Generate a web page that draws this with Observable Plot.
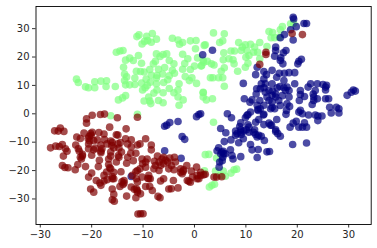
<!DOCTYPE html>
<html><head><meta charset="utf-8">
<script src="https://cdn.jsdelivr.net/npm/d3@7"></script>
<script src="https://cdn.jsdelivr.net/npm/@observablehq/plot@0.6"></script>
<style>html,body{margin:0;padding:0;background:#fff}svg{display:block}</style>
</head><body><div id="c"></div>
<script>
const green=[[-11.2,27.2],[-10.8,27.8],[-9.3,27.3],[-8.2,28.3],[-10.2,24.6],[-9.7,25.5],[-9.1,25.8],[-8.4,25.2],[-7.4,26.3],[-4.3,26.6],[-3.2,26],[-2.9,24.5],[-2.3,25.1],[-0.8,25.7],[0.3,25.8],[1.9,24.1],[0.2,22.9],[-15.2,21.7],[-14.5,22.1],[-13.9,22.3],[-10.9,20.5],[-7.4,21.1],[-6.7,20.2],[-6.1,20.9],[-5.4,21.1],[-2.3,21],[-13.4,18.9],[-12.6,19.6],[-11.9,18.8],[-10.3,17.8],[-7.6,18.5],[-8,17.6],[-4.9,18.8],[-4,17.6],[-1.3,19.4],[-1.9,17.7],[0.6,19.7],[1.7,18.8],[-13.8,16.4],[-2.3,15.7],[-0.8,15.6],[0,16.8],[1.3,16.8],[-5.8,16.3],[-7,15.7],[-4.3,15.3],[-11.3,15],[-10.5,14.9],[-9.8,14.7],[-8.7,15.6],[-13.6,14],[-13.2,13],[-11.6,12.6],[-8.4,13.6],[-7.3,13.5],[-6.2,14],[-4.9,13.4],[-3.9,14.3],[-1.8,13.1],[-1,11.7],[-0.5,12.7],[0.4,10.7],[-22.95,12.2],[-22.6,11],[-21.2,9.5],[-20.6,9.2],[-19.4,11.3],[-19.4,9.2],[-18.2,11.5],[-17.1,11.6],[-17.2,9.6],[-15.4,9.6],[-13.6,11.7],[-13.4,10.2],[-12.6,10.2],[-11.6,10.3],[-10.3,10.8],[-9.4,12.2],[-8.6,11.1],[-7.4,12.6],[-7.4,10.6],[-9.6,9.2],[-10.1,8.4],[-9.2,10],[-7.3,8.4],[-7.9,7.3],[-6,11],[-5.2,12],[-3,10.6],[-4.9,8.9],[-4,7.4],[-3.2,8.4],[-6.1,7.4],[-3.2,5.9],[-14.8,4.9],[-14,5.6],[-13.4,6.4],[-9.8,4.5],[-8.9,5.9],[-8.7,4.5],[-8.5,3.6],[-7,4.7],[-6.1,3.9],[-2.2,4.9],[-3,3],[1.7,7.4],[1.7,5.9],[-16.3,-0.7],[-11.1,-0.2],[3.7,28.5],[5.8,28.2],[2.1,24.3],[4.9,25.1],[5.5,25.7],[8.6,25.1],[9.3,23.5],[9.9,24.3],[10.9,24.5],[12.7,25.1],[11.7,23.5],[9.1,22.3],[10.2,22.3],[7.1,22.1],[7.8,22.1],[5.7,21.5],[11.5,21.7],[12.3,21.7],[14.1,23.7],[10,19.9],[10.6,20.5],[5.6,19],[6.7,19.4],[7.5,19],[7.7,17.6],[10.4,17.8],[9.9,16.4],[12.7,19.4],[5.8,16.2],[5.2,15],[8.4,15],[3.1,12.7],[3.6,12.7],[4.7,12.7],[5.5,12.7],[5.8,9.7],[1.7,7.6],[2.3,4.9],[3.5,5.3],[1.8,18.2],[2.5,18.5],[3.3,17.6],[3.8,17.2],[1.4,17],[14.5,29],[15.2,28.6],[17.1,30.7],[16.7,29.6],[18.7,31.7],[19.3,31.9],[15.6,26.8],[16.5,27],[14.9,26.8],[3.7,-3],[2.1,-14.4],[2.8,-14.3],[4.3,-15.6],[1.95,-20.1],[4.1,-20.2],[5.6,-20.2],[7.1,-20.9],[7.7,-19.7],[8.2,-19.5],[6,-22],[2.9,-25.8],[3.4,-25.2],[3.9,-24.8],[5.1,-21.7]];
const blue=[[1.6,20.8],[3.5,22.4],[19.2,34],[19.3,33.4],[21.3,31.8],[21.8,31.8],[18.7,29.6],[19.8,30.7],[17.5,27.9],[16.7,26.8],[19.2,26],[15.8,23.5],[15.8,22.3],[17.8,22.3],[17.3,21.5],[15.6,20.3],[16.8,19.7],[16.7,18.8],[17.2,17.6],[20.8,19.2],[20.3,18.5],[20.1,17.6],[12.2,16.4],[13.5,14.9],[11.9,13.8],[15.1,15.3],[13.5,12.3],[14,13.8],[16.5,14.3],[17.5,14.3],[18.4,14.5],[19.5,14.5],[16,12.9],[17.4,11.7],[9.5,10.7],[13,10.6],[13.8,10.6],[12.1,8.8],[12,7],[13.5,9.2],[13.8,7.6],[15.1,10.6],[15.2,8],[15.8,7],[16.6,9.6],[17.4,9.2],[18,9.4],[18.4,8.2],[19.5,10.6],[20.6,8.2],[20.6,6.8],[21.4,6.1],[22.1,9.4],[22.6,10.6],[23.9,10.6],[25,10.3],[25.7,10],[25.5,8.4],[23.1,7],[23.9,5.3],[23.2,4.7],[22.9,3.3],[25.5,5.3],[26.1,5.3],[26.3,2.3],[27.6,2.3],[28.1,1.8],[26.6,0.3],[28.1,0.3],[30.9,8.4],[31.3,8],[30.5,7.6],[29.7,6.5],[9.7,5.3],[11.2,4.9],[12.7,4.7],[10.8,4.1],[12.2,3],[13.5,3],[12.3,1.5],[14.5,4.7],[15.1,6.5],[16.4,4.7],[15.6,1.8],[14.8,1.8],[18,3.5],[18.5,2.6],[17.9,1.2],[17.8,-0.2],[20.4,4.7],[20.3,0.6],[21,0],[22.2,-0.4],[23.5,-0.4],[24,-0.8],[24.8,-0.8],[24,-2.4],[10.9,0.6],[10.2,-0.6],[9.9,-1.4],[6.4,0],[7.2,-1.4],[1.2,0],[9,-3.2],[12.5,-2],[13.5,-0.2],[16,-2],[14.5,-3.3],[19.8,-2.6],[19.2,-3.3],[21.4,-3.2],[5.1,-5.2],[6.1,-6.7],[8.8,-4.5],[10.4,-0.25],[12.4,1.2],[13.4,-0.4],[11.9,-3],[13.5,-3.8],[10.4,-3.9],[14.8,-4],[8,-6.1],[9,-5.6],[10.1,-5.6],[10.6,-6.5],[11.7,-5.6],[8,-7.6],[9.1,-7.3],[11.9,-7.3],[12.2,-8.2],[13,-7.9],[13.6,-9.4],[7.1,-9.2],[9.5,-8.8],[8.6,-10.2],[5.8,-9.8],[10.9,-10.8],[11.2,-12.7],[12.4,-12.6],[14.1,-13.4],[14.6,-13.3],[12.2,-15.4],[9,-15.1],[7.5,-15.9],[7,-12.7],[7.3,-14.7],[4.7,-12],[4.4,-13],[5.3,-13.5],[5.7,-14.1],[5.5,-15.3],[4.9,-17],[4.8,-18.8],[15.8,-6.2],[16.2,-7],[16.7,-7.9],[19.1,-10.8],[21.8,-10.3],[18.6,-4.7],[20.3,-4.7],[21,-4.7],[21.8,-4.7],[-5.8,-4.4],[-5.4,-4],[-4.8,-3.1],[-3.2,-2.7],[0.4,-1],[0.85,-0.25],[-2.4,-8],[-1.9,-9],[-5.8,-13],[-2.6,-15.7],[-12.3,-22.1],[12.8,8.8],[14.5,8.2],[16.1,9.2],[17.7,8.2],[14.1,5.9],[15.8,5.9],[17.1,6.4],[18.4,5.9],[15.1,4.1],[16.7,2.9],[12.8,1.8],[15.1,2.3],[20.6,1.2],[23.2,5.9],[23.5,8.2],[25.5,9.4],[5.1,-14.1],[5.6,-13.2],[6,-14.1],[5.4,-16.5],[8.3,-7],[9.6,-6.1],[9,-6.5],[10.6,-4.7],[11.5,-6.5],[12.5,-7.6],[15.8,-5.6],[15,-4]];
const red=[[19,28.3],[21,27.9],[13.9,21.7],[13.9,20.9],[12.7,17.4],[-19.9,-0.5],[-21,-1.8],[-21,-3.3],[-18.3,-0.25],[-17.5,-0.1],[-15,-1.4],[-11.1,-1.2],[-16.5,-4.7],[-13.3,-5.3],[-26.1,-5],[-27.2,-6],[-26.5,-6.1],[-25.4,-6.2],[-21.5,-6.8],[-19.9,-6.5],[-18.6,-6.6],[-17.6,-7.1],[-15.2,-7.4],[-14.9,-7.5],[-22.9,-8.2],[-22.2,-8.7],[-20.7,-8.7],[-20.1,-7.6],[-18.9,-9.2],[-17.5,-9.1],[-16.3,-9.6],[-13.4,-8.8],[-12.3,-9.2],[-9.5,-8.8],[-20.6,-10.6],[-18.2,-11],[-28,-12],[-27,-11.4],[-26.3,-11.5],[-25.7,-10.8],[-23.1,-11],[-25.1,-12.3],[-24.8,-13.2],[-22.6,-12.3],[-22.4,-13.2],[-20.6,-12.3],[-19.3,-12.1],[-16.1,-11.2],[-14.4,-10.1],[-13,-10.6],[-11.1,-11],[-8.4,-11],[-10.6,-10.6],[-25.5,-14.9],[-21.8,-14.9],[-22,-15.9],[-22.7,-17.9],[-23.2,-19.7],[-25.7,-18.2],[-25.2,-18.9],[-24.6,-19],[-21.2,-18.6],[-20,-14.6],[-18.5,-16.4],[-18.7,-18.6],[-18.2,-13.7],[-19.6,-12.7],[-16.3,-13.5],[-14.7,-12.1],[-14.2,-13.5],[-12.3,-11.7],[-16.3,-14.9],[-16.7,-17.9],[-15.2,-17],[-17.1,-20.5],[-16.5,-19],[-12.4,-13.9],[-13,-15.3],[-13.2,-17.4],[-11.9,-16.5],[-9.2,-15.9],[-8.4,-12.7],[-11.4,-13.9],[-10.1,-17.6],[-10.6,-19.4],[-9.5,-18.8],[-14.3,-20.4],[-11.4,-20.4],[-20.6,-22.3],[-20,-20.9],[-17,-23.2],[-16,-22.1],[-15.7,-22.9],[-13.7,-23.5],[-13.9,-24.9],[-14.5,-25.6],[-19.1,-23.5],[-18.4,-24.4],[-18.2,-25.2],[-20.2,-26.5],[-19.6,-27.6],[-16,-26.5],[-15.7,-28.4],[-16,-30.3],[-15.6,-30.8],[-13.2,-29],[-11.4,-29.6],[-11.7,-26.6],[-12.3,-25.8],[-11.1,-27.6],[-10.5,-28.2],[-9.5,-25.6],[-8.7,-25.6],[-8.2,-27],[-7.1,-29.1],[-6.7,-29.6],[-11,-35.3],[-10.5,-35.2],[-10,-35.2],[-11.3,-22.9],[-10.2,-22.3],[-9.1,-22.7],[-8.6,-22.9],[-6.6,-23.7],[-6,-22.9],[-7.9,-19.4],[-6.9,-20],[-7.2,-14.9],[-7.8,-16.7],[-6.9,-17],[-6,-17.6],[-5.2,-17],[-6.3,-15.9],[-4.8,-15.6],[-3.9,-15.3],[-4.5,-18.2],[-5,-19.4],[-4,-19.7],[-2.7,-19.4],[-2.2,-20.3],[-2.4,-21.1],[-1.5,-18.2],[-0.6,-20.2],[0.4,-18.8],[0.5,-22.9],[-1.1,-23.8],[-4.1,-23.5],[-5,-26.5],[-4.5,-26.4],[-3.2,-26.1],[-8.9,-21.7],[1.8,-21.5],[-0.4,-22.3],[1.2,-20.6],[-17.6,-23.7],[-20.4,-9.6],[-14.1,-24],[-20.2,-7],[-14.8,-14.7],[-12.1,-21.7],[2.1,-21.3],[3.8,-22.3],[4.3,-22.3],[5.3,-22.2],[1.2,-21.7],[-22.2,-15.3],[-21.8,-14.3],[-20.5,-8],[-19.6,-9.4],[-18,-12.3],[-18.2,-13.2],[-17,-10.6],[-15.7,-12],[-16,-10],[-14.9,-10.6],[-14.7,-15.3],[-16.7,-15.9],[-16.3,-19.4],[-15.7,-20.6],[-16,-22.9],[-17.6,-21.7],[-13.7,-24.4],[-10.2,-15.9],[-9.5,-17],[-11.1,-20],[-11.1,-24],[-8.9,-22.9],[-6,-15.3],[-7.6,-18.2],[-6.6,-18.2],[-5.6,-16.4],[-3.7,-17],[-2.7,-20.6],[-2.1,-19.7],[-1.4,-23.5],[-0.8,-24.1],[0.5,-21.7],[0.85,-22.9],[-11.1,-27],[-11.3,-26.4]];
const xTicks=[-30,-20,-10,0,10,20,30];
const yTicks=[-30,-20,-10,0,10,20,30];
const seriesColors={green:"#7fff7f",blue:"#00007f",red:"#7f0000"};
const rows=[
  ...green.map(([x,y])=>({x,y,k:"green"})),
  ...blue.map(([x,y])=>({x,y,k:"blue"})),
  ...red.map(([x,y])=>({x,y,k:"red"}))
];
const chart=Plot.plot({
  width:377,height:248,
  marginLeft:35.5,marginRight:6.3,marginTop:6,marginBottom:24,
  style:{fontFamily:"DejaVu Sans",fontSize:"10px",color:"#262626",background:"#fff"},
  x:{domain:[-30.83,34.38]},
  y:{domain:[-39,37.8]},
  marks:[
    Plot.dot(rows,{x:"x",y:"y",r:3.8,fill:d=>seriesColors[d.k],fillOpacity:0.7,stroke:"none"}),
    Plot.frame({stroke:"#000",strokeWidth:0.9}),
    Plot.axisX({ticks:xTicks,tickSize:3.5,tickPadding:3,label:null,fontSize:10,stroke:"#000",strokeWidth:0.8}),
    Plot.axisY({ticks:yTicks,tickSize:3.5,tickPadding:3,label:null,fontSize:10,stroke:"#000",strokeWidth:0.8})
  ]
});
document.getElementById("c").appendChild(chart);
</script></body></html>
